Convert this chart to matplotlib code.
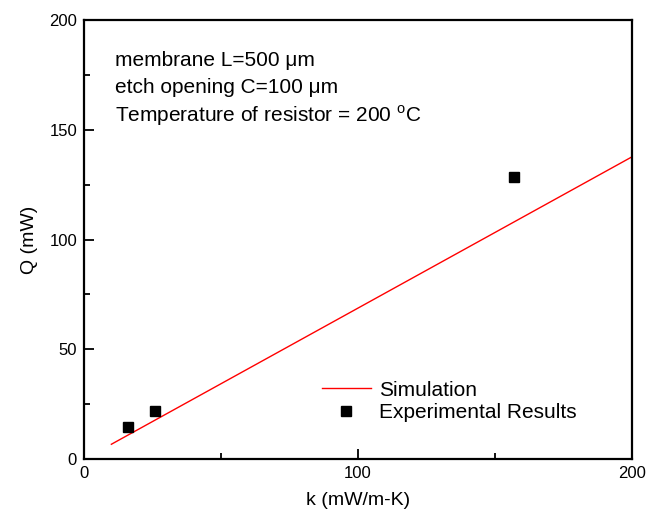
import numpy as np
import matplotlib.pyplot as plt
from matplotlib.ticker import MultipleLocator

plt.rcParams['font.family'] = ['Liberation Sans', 'DejaVu Sans']
plt.rcParams['mathtext.fontset'] = 'custom'
plt.rcParams['mathtext.rm'] = 'Liberation Sans'

# simulation line (k in mW/m-K, Q in mW)
sim_k = [10, 200]
sim_q = [6.8, 137.6]

# experimental points
exp_k = [15.9, 25.8, 156.9]
exp_q = [14.7, 22.0, 128.3]

fig = plt.figure(figsize=(6.46, 5.23), dpi=100)
ax = fig.add_axes([0.130, 0.122, 0.848, 0.840])

ax.plot(sim_k, sim_q, color='red', lw=1.0, label='Simulation')
ax.plot(exp_k, exp_q, ls='none', marker='s', ms=6.5, color='black',
        label='Experimental Results')

ax.set_xlim(0, 200)
ax.set_ylim(0, 200)
ax.xaxis.set_major_locator(MultipleLocator(100))
ax.xaxis.set_minor_locator(MultipleLocator(50))
ax.yaxis.set_major_locator(MultipleLocator(50))
ax.yaxis.set_minor_locator(MultipleLocator(25))
ax.tick_params(which='both', direction='in', labelsize=12, pad=5)
ax.tick_params(which='major', length=7, width=1.3)
ax.tick_params(which='minor', length=4, width=1.3)
for sp in ax.spines.values():
    sp.set_linewidth(1.6)

ax.set_xlabel('k (mW/m-K)', fontsize=14, labelpad=8)
ax.set_ylabel('Q (mW)', fontsize=14, labelpad=8)

ax.text(0.057, 0.895, 'membrane L=500 μm', transform=ax.transAxes,
        fontsize=15, va='baseline')
ax.text(0.057, 0.834, 'etch opening C=100 μm', transform=ax.transAxes,
        fontsize=15, va='baseline')
ax.text(0.057, 0.768, 'Temperature of resistor = 200 $^\\mathrm{o}$C',
        transform=ax.transAxes, fontsize=15, va='baseline')

ax.legend(loc='lower left', bbox_to_anchor=(0.434, 0.085), frameon=False,
          fontsize=15, handlelength=2.35, handletextpad=0.4,
          labelspacing=0.15, borderpad=0, borderaxespad=0, markerscale=1.1)

fig.savefig('out.png', dpi=100)
